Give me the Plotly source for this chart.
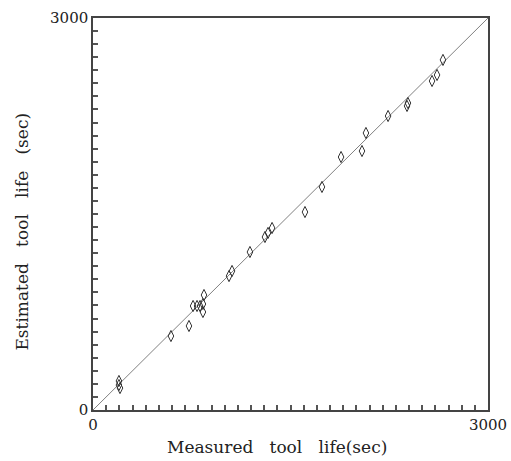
import plotly.graph_objects as go

measured = [197, 197, 205, 592, 729, 760, 790, 813, 835, 835, 843, 1033, 1056, 1192,
            1306, 1329, 1360, 1610, 1739, 1884, 2043, 2073, 2241, 2385, 2392, 2575,
            2613, 2658]
estimated = [222, 191, 168, 566, 643, 796, 796, 796, 811, 750, 880, 1025, 1064, 1209,
             1324, 1355, 1393, 1515, 1707, 1936, 1982, 2120, 2250, 2327, 2349, 2518,
             2564, 2679]
line_x = [0, 3000]
line_y = [0, 3000]
tick_vals = list(range(0, 3001, 100))
tick_text = ["0"] + [""] * 29 + ["3000"]

font_family = "DejaVu Serif"
txt_color = "#222222"

fig = go.Figure()
fig.add_trace(go.Scatter(x=line_x, y=line_y, mode="lines",
                         line=dict(color="#808080", width=1), showlegend=False,
                         hoverinfo="skip"))
fig.add_trace(go.Scatter(x=measured, y=estimated, mode="markers",
                         marker=dict(symbol="diamond-tall-open", size=8,
                                     color="#333333", line=dict(width=1, color="#333333")),
                         showlegend=False))

axis_common = dict(range=[0, 3000], tickmode="array", tickvals=tick_vals,
                   ticktext=tick_text,
                   ticks="inside", ticklen=5, tickcolor="#555555", tickwidth=1.5,
                   showgrid=False, zeroline=False, showline=True,
                   linecolor="#444444", linewidth=1.5, mirror=True,
                   automargin=False, fixedrange=True,
                   tickfont=dict(family=font_family, size=15, color=txt_color))

fig.update_layout(
    width=511, height=461,
    margin=dict(l=93, r=23, t=18, b=51),
    paper_bgcolor="white", plot_bgcolor="white",
    xaxis=dict(**axis_common),
    yaxis=dict(**axis_common),
    annotations=[
        dict(text="Measured   tool   life(sec)", xref="paper", yref="paper",
             x=0.465, y=-0.094, xanchor="center", yanchor="middle", showarrow=False,
             font=dict(family=font_family, size=17, color=txt_color)),
        dict(text="Estimated   tool   life   (sec)", xref="paper", yref="paper",
             x=-0.18, y=0.455, xanchor="center", yanchor="middle", showarrow=False,
             textangle=-90,
             font=dict(family=font_family, size=17, color=txt_color)),
    ],
)

fig.write_html("out.html")
